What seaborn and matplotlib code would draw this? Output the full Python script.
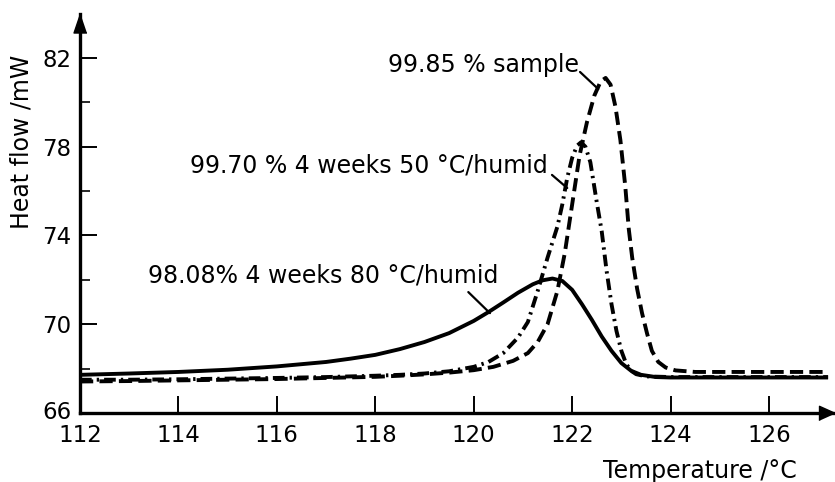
import matplotlib
matplotlib.use("Agg")
import matplotlib.pyplot as plt
import matplotlib.transforms as mtransforms
import numpy as np
import pandas as pd
import seaborn as sns

# ---------------- data ----------------
temp_9808 = [112.0, 113.0, 114.0, 115.0, 116.0, 117.0, 117.5, 118.0, 118.5, 119.0,
             119.5, 120.0, 120.3, 120.6, 120.9, 121.2, 121.4, 121.6, 121.8, 122.0,
             122.2, 122.4, 122.6, 122.8, 123.0, 123.2, 123.4, 123.7, 124.0, 125.0,
             126.0, 127.2]
flow_9808 = [67.72, 67.78, 67.85, 67.95, 68.1, 68.3, 68.45, 68.62, 68.88, 69.2,
             69.6, 70.15, 70.55, 70.98, 71.42, 71.8, 71.98, 72.06, 71.95, 71.55,
             70.9, 70.2, 69.45, 68.8, 68.25, 67.9, 67.72, 67.62, 67.6, 67.6,
             67.6, 67.6]

temp_9970 = [112.0, 113.0, 114.0, 115.0, 116.0, 117.0, 118.0, 118.5, 119.0, 119.5,
             120.0, 120.3, 120.6, 120.9, 121.1, 121.3, 121.5, 121.7, 121.8, 121.9,
             122.0, 122.1, 122.18, 122.27, 122.37, 122.5, 122.6, 122.7, 122.8, 122.9,
             123.0, 123.1, 123.2, 123.3, 123.5, 124.0, 127.2]
flow_9970 = [67.5, 67.5, 67.52, 67.55, 67.58, 67.62, 67.68, 67.72, 67.78, 67.88,
             68.08, 68.3, 68.7, 69.4, 70.1, 71.5, 73.0, 74.4, 75.4, 76.6,
             77.5, 78.05, 78.2, 78.0, 77.3, 75.5, 74.2, 72.4, 70.9, 69.7,
             68.8, 68.2, 67.9, 67.75, 67.65, 67.62, 67.62]

temp_9985 = [112.0, 113.0, 114.0, 115.0, 116.0, 117.0, 118.0, 118.5, 119.0, 119.5,
             120.0, 120.4, 120.8, 121.1, 121.3, 121.5, 121.7, 121.85, 122.0, 122.15,
             122.3, 122.45, 122.58, 122.68, 122.78, 122.88, 122.98, 123.08, 123.15, 123.22,
             123.32, 123.42, 123.52, 123.62, 123.75, 123.9, 124.1, 124.5, 125.0, 126.0,
             127.2]
flow_9985 = [67.42, 67.44, 67.47, 67.5, 67.53, 67.58, 67.63, 67.68, 67.74, 67.82,
             67.93, 68.08, 68.35, 68.7, 69.2, 70.0, 71.5, 73.2, 75.4, 77.6,
             79.1, 80.3, 80.95, 81.1, 80.8, 79.8, 78.3, 76.2, 74.3, 73.0,
             71.6, 70.5, 69.6, 68.8, 68.3, 68.05, 67.92, 67.85, 67.85, 67.85,
             67.85]

samples = ["98.08% 4 weeks 80 °C/humid",
           "99.70 % 4 weeks 50 °C/humid",
           "99.85 % sample"]

x_ticks = [112, 114, 116, 118, 120, 122, 124, 126]
y_major = [66, 70, 74, 78, 82]
y_minor = [68, 72, 76, 80]

x_label = "Temperature /°C"
y_label = "Heat flow /mW"

# ---------------- build table ----------------
df = pd.concat([
    pd.DataFrame({"Temperature": temp_9808, "Heat flow": flow_9808, "sample": samples[0]}),
    pd.DataFrame({"Temperature": temp_9970, "Heat flow": flow_9970, "sample": samples[1]}),
    pd.DataFrame({"Temperature": temp_9985, "Heat flow": flow_9985, "sample": samples[2]}),
], ignore_index=True)

# ---------------- style ----------------
sns.set_style("white")
plt.rcParams["font.family"] = ["DejaVu Sans"]
plt.rcParams["lines.solid_capstyle"] = "butt"

W, H = 835, 482
fig = plt.figure(figsize=(W / 100, H / 100), dpi=100)
ax_left, ax_right, ax_top, ax_bottom = 80, 833, 13.6, 413
ax = fig.add_axes([ax_left / W, 1 - ax_bottom / H,
                   (ax_right - ax_left) / W, (ax_bottom - ax_top) / H])

dash_map = {samples[0]: "",
            samples[1]: (3.0, 1.3, 0.6, 1.3),
            samples[2]: (3.4, 1.6)}

sns.lineplot(data=df, x="Temperature", y="Heat flow", style="sample",
             style_order=samples, dashes=dash_map, color="black",
             linewidth=2.8, legend=False, sort=False, estimator=None, ax=ax)

ax.set_xlim(112, 127.3)
ax.set_ylim(66, 84)

# spines
for s in ["top", "right"]:
    ax.spines[s].set_visible(False)
for s in ["left", "bottom"]:
    ax.spines[s].set_linewidth(2.4)
    ax.spines[s].set_color("black")

ax.set_xticks(x_ticks)
ax.set_xticklabels([str(v) for v in x_ticks])
ax.set_yticks(y_major)
ax.set_yticklabels([str(v) for v in y_major])
ax.set_yticks(y_minor, minor=True)
ax.tick_params(axis="x", which="major", direction="in", length=12, width=1.4,
               labelsize=16.5, pad=8, colors="black", bottom=True)
ax.tick_params(axis="y", which="major", direction="in", length=12, width=1.4,
               labelsize=16.5, pad=6, colors="black", left=True)
ax.tick_params(axis="y", which="minor", direction="in", length=7, width=1.4,
               left=True)
ax.set_xlabel("")
ax.set_ylabel("")
ax.grid(False)

# nudge the lowest y label slightly up so it clears the 112 label
lbl66 = ax.get_yticklabels()[0]
lbl66.set_transform(lbl66.get_transform() +
                    mtransforms.ScaledTranslation(0, 3 / 100, fig.dpi_scale_trans))

# axis arrows
ax.plot([0.992], [0.0], transform=ax.transAxes, clip_on=False, color="black",
        marker=[(1, 0), (-1, 0.9), (-1, -0.9)], markersize=11.5, zorder=10)
ax.plot([0.0], [0.9777], transform=ax.transAxes, clip_on=False, color="black",
        marker=[(0, 1), (-0.68, -1), (0.68, -1)], markersize=13.7, zorder=10)

# axis titles
fig.text(22 / W, 1 - 142 / H, y_label, rotation=90, ha="center", va="center",
         fontsize=17, color="black")
fig.text(700 / W, 1 - 478 / H, x_label, ha="center", va="baseline",
         fontsize=17, color="black")

# curve labels with leader lines
label_pos = [(116.94, 71.86), (117.87, 76.86), (120.19, 81.37)]
leader = [((119.89, 71.45), (120.33, 70.5)),
          ((121.59, 76.73), (121.9, 76.14)),
          ((122.16, 81.37), (122.53, 80.6))]
for name, (tx, ty), (p0, p1) in zip(samples, label_pos, leader):
    ax.text(tx, ty, name, ha="center", va="baseline", fontsize=17, color="black")
    ax.annotate("", xy=p1, xytext=p0,
                arrowprops=dict(arrowstyle="-", lw=1.6, color="black",
                                shrinkA=0, shrinkB=0))

fig.savefig("out.png", dpi=100, facecolor="white")
